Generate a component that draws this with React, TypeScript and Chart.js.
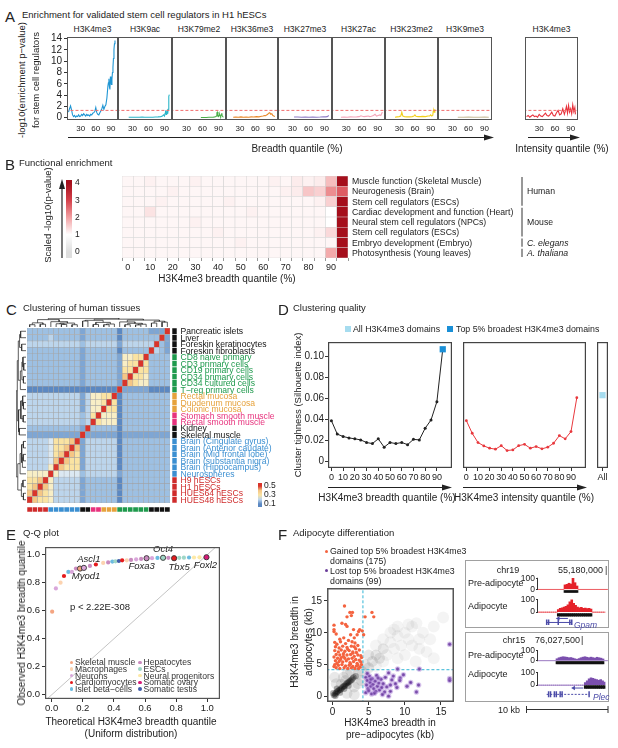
import React, { useEffect, useRef } from 'react';
import { Chart, registerables } from 'chart.js';

Chart.register(...registerables);

const FONT = '"Liberation Sans", Arial, Helvetica, sans-serif';
Chart.defaults.font.family = FONT;
Chart.defaults.color = '#222';
Chart.defaults.plugins.legend.display = false;
Chart.defaults.plugins.tooltip.enabled = false;

// ---------------- Panel A data ----------------
const A_MARKS = ['H3K4me3', 'H3K9ac', 'H3K79me2', 'H3K36me3', 'H3K27me3', 'H3K27ac', 'H3K23me2', 'H3K9me3'];
const A_COLORS = ['#1f96d4', '#2bb6c9', '#4daf4a', '#e8892a', '#8e7cc3', '#f4a6b9', '#f2cf1c', '#c9bd9b'];
const A_X = [
  [6, 8, 10, 12, 14, 16, 18, 20, 22, 24, 26, 28, 30, 32, 34, 36, 38, 40, 42, 44, 46, 48, 50, 52, 54, 56, 58, 60, 62, 64, 66, 68, 70, 72, 74, 76, 78, 80, 82, 84, 85, 86, 87, 88, 89, 90, 91, 92, 93, 94, 95, 96, 97, 98],
  [23, 28, 33, 38, 43, 48, 53, 58, 63, 68, 73, 78, 83, 86, 88, 90, 91, 92, 93, 94, 95, 96, 97, 98, 99],
  [57, 62, 67, 72, 77, 80, 83, 85, 86, 87, 88, 89, 90, 91, 92, 93, 94, 95, 96, 97, 98],
  [17, 22, 27, 32, 37, 42, 47, 52, 57, 62, 67, 72, 75, 78, 80, 82, 84, 86, 88, 90, 92, 94, 96, 98],
  [33, 40, 47, 54, 61, 68, 75, 82, 88, 92, 95, 98],
  [20, 26, 32, 38, 44, 50, 55, 58, 61, 64, 68, 72, 75, 78, 82, 85, 88, 91, 94, 96, 98, 99],
  [22, 26, 30, 33, 35, 37, 40, 45, 50, 55, 58, 60, 62, 66, 70, 75, 80, 85, 88, 90, 92, 94, 95, 96, 97, 98],
  [40, 50, 60, 70, 80, 90, 98],
];
const A_Y = [
  [1.0, 1.6, 2.1, 1.4, 0.5, 0.2, 0.4, 0.1, 0.3, 0.2, 0.5, 0.2, 0.3, 0.6, 0.4, 0.7, 0.5, 0.3, 0.6, 0.4, 0.5, 0.3, 0.6, 0.5, 0.8, 0.9, 1.1, 1.8, 0.9, 0.6, 0.5, 0.9, 1.2, 1.6, 2.2, 1.5, 2.0, 2.3, 3.5, 5.6, 6.2, 6.9, 5.5, 5.0, 7.3, 6.4, 5.9, 6.8, 8.0, 8.9, 10.5, 12.1, 13.1, 13.7],
  [0.1, 0.1, 0.1, 0.1, 0.1, 0.12, 0.1, 0.1, 0.1, 0.1, 0.12, 0.15, 0.2, 0.3, 0.5, 0.3, 0.8, 1.3, 0.6, 0.9, 1.2, 0.7, 1.5, 3.8, 4.1],
  [0.05, 0.05, 0.05, 0.1, 0.08, 0.1, 0.15, 0.2, 0.3, 0.9, 1.0, 0.3, 0.2, 0.4, 0.6, 0.3, 0.2, 0.5, 0.8, 0.3, 0.2],
  [0.1, 0.12, 0.1, 0.15, 0.1, 0.12, 0.1, 0.15, 0.12, 0.2, 0.15, 0.25, 0.3, 0.4, 0.35, 0.5, 0.6, 0.8, 0.9, 0.6, 0.7, 0.4, 0.3, 0.2],
  [0.12, 0.12, 0.1, 0.12, 0.1, 0.12, 0.1, 0.12, 0.15, 0.15, 0.2, 0.4],
  [0.1, 0.12, 0.1, 0.15, 0.12, 0.15, 0.2, 0.35, 0.25, 0.2, 0.25, 0.3, 0.2, 0.25, 0.4, 0.6, 0.3, 0.4, 0.5, 0.4, 0.8, 1.0],
  [0.1, 0.15, 0.2, 0.3, 1.0, 0.3, 0.2, 0.15, 0.15, 0.2, 0.3, 0.5, 0.25, 0.2, 0.2, 0.25, 0.2, 0.3, 0.3, 0.5, 0.3, 0.4, 1.2, 1.3, 1.0, 1.5],
  [0.1, 0.1, 0.12, 0.1, 0.1, 0.12, 0.1],
];
const A_INT_X = [6, 9, 12, 15, 18, 21, 24, 27, 30, 33, 36, 39, 42, 45, 48, 51, 54, 57, 60, 63, 66, 69, 72, 75, 78, 80, 82, 84, 86, 88, 90, 92, 94, 96, 98, 99];
const A_INT_Y = [0.2, 0.4, 0.1, 0.3, 0.5, 0.2, 0.3, 0.1, 0.6, 0.3, 0.2, 0.5, 0.8, 0.4, 0.3, 0.6, 1.0, 0.4, 0.3, 0.9, 1.3, 0.5, 0.7, 1.6, 0.6, 1.2, 2.0, 0.8, 2.2, 1.0, 1.6, 0.7, 2.3, 1.1, 1.8, 0.6];
const A_INT_COLOR = '#e8323c';
const A_Y_TICKS = [0, 2, 4, 6, 8, 10, 12, 14];
const A_X_TICKS = [30, 60, 90];
const A_PCUT = 1.3;

// ---------------- Panel B data ----------------
const B_TERMS = ['Muscle function (Skeletal Muscle)', 'Neurogenesis (Brain)', 'Stem cell regulators (ESCs)', 'Cardiac development and function (Heart)', 'Neural stem cell regulators (NPCs)', 'Stem cell regulators (ESCs)', 'Embryo development (Embryo)', 'Photosynthesis (Young leaves)'];
const B_QUANT = [0, 5, 10, 15, 20, 25, 30, 35, 40, 45, 50, 55, 60, 65, 70, 75, 80, 85, 90, 95];
const B_VALUES = [
  [1.1, 1.1, 1.15, 1.1, 1.1, 1.1, 1.15, 1.1, 1.1, 1.1, 1.1, 1.1, 1.1, 1.15, 1.1, 1.2, 1.15, 1.2, 1.7, 4.0],
  [1.1, 1.1, 1.1, 1.1, 1.15, 1.1, 1.1, 1.1, 1.1, 1.1, 1.1, 1.1, 1.1, 1.1, 1.15, 1.2, 1.6, 1.5, 2.2, 2.7],
  [1.1, 1.1, 1.1, 1.15, 1.1, 1.1, 1.1, 1.1, 1.1, 1.15, 1.1, 1.1, 1.1, 1.1, 1.1, 1.1, 1.1, 1.15, 1.5, 4.0],
  [1.1, 1.1, 1.3, 1.1, 1.1, 1.1, 1.1, 1.1, 1.1, 1.1, 1.1, 1.15, 1.1, 1.1, 1.1, 1.1, 1.1, 1.1, 1.0, 4.0],
  [1.1, 1.1, 1.1, 1.1, 1.1, 1.1, 1.15, 1.1, 1.1, 1.1, 1.1, 1.1, 1.1, 1.1, 1.1, 1.1, 1.1, 1.1, 1.0, 4.0],
  [1.1, 1.1, 1.1, 1.1, 1.1, 1.1, 1.1, 1.1, 1.15, 1.1, 1.1, 1.1, 1.1, 1.1, 1.1, 1.1, 1.1, 1.15, 1.4, 4.0],
  [1.1, 1.1, 1.1, 1.1, 1.1, 1.1, 1.1, 1.1, 1.1, 1.1, 1.15, 1.1, 1.1, 1.1, 1.1, 1.1, 1.1, 1.1, 1.1, 4.0],
  [1.1, 1.1, 1.1, 1.1, 1.1, 1.1, 1.1, 1.1, 1.1, 1.1, 1.1, 1.1, 1.1, 1.1, 1.1, 1.1, 1.1, 1.1, 1.9, 4.0],
];
const B_GROUPS = [
  { name: 'Human', from: 0, to: 2, it: false },
  { name: 'Mouse', from: 3, to: 5, it: false },
  { name: 'C. elegans', from: 6, to: 6, it: true },
  { name: 'A. thaliana', from: 7, to: 7, it: true },
];
const B_STOPS: [number, string][] = [[0, '#dedede'], [1, '#ffffff'], [2, '#f2a0a2'], [3, '#d5404a'], [4, '#a50f1c']];
const B_SCALE_TICKS = [0, 1, 2, 3, 4];

// ---------------- Panel C data ----------------
const C_SAMPLES = ['Pancreatic islets', 'Liver', 'Foreskin keratinocytes', 'Foreskin fibroblasts', 'CD8 naive primary', 'CD3 primary cells', 'CD19 primary cells', 'CD34 primary cells', 'CD34 cultured cells', 'T\u2212reg primary cells', 'Rectal mucosa', 'Duodenum mucosa', 'Colonic mucosa', 'Stomach smooth muscle', 'Rectal smooth muscle', 'Kidney', 'Skeletal muscle', 'Brain (Cingulate gyrus)', 'Brain (Anterior caudate)', 'Brain (Mid frontal lobe)', 'Brain (substantia nigra)', 'Brain (Hippocampus)', 'Neurospheres', 'H9 hESCs', 'H1 hESCs', 'HUES64 hESCs', 'HUES48 hESCs'];
const C_GROUP = [0, 0, 0, 0, 1, 1, 1, 1, 1, 1, 2, 2, 2, 3, 3, 0, 0, 4, 4, 4, 4, 4, 4, 5, 5, 5, 5];
const C_GROUP_COLORS = ['#111111', '#1f9a4d', '#e6a23c', '#e7327d', '#3b8fd1', '#cf2b2b'];
// rows = samples (top to bottom); columns = samples in reverse order (left to right); level codes
const C_ROWS = [
  '2222' + '222222' + '12' + '22' + '222' + '022222' + '1119',
  '2222' + '322222' + '12' + '22' + '222' + '022222' + '2291',
  '3333' + '333333' + '23' + '33' + '333' + '133333' + '3921',
  '2222' + '222222' + '12' + '22' + '222' + '022222' + '9321',
  '2222' + '222222' + '12' + '22' + '222' + '155669' + '2222',
  '2222' + '222222' + '12' + '22' + '222' + '156696' + '2222',
  '2222' + '222222' + '12' + '22' + '222' + '166966' + '2222',
  '2222' + '222222' + '12' + '22' + '222' + '179665' + '2222',
  '2222' + '222222' + '12' + '22' + '222' + '197655' + '2222',
  '0000' + '000000' + '00' + '00' + '000' + '911111' + '0000',
  '3333' + '333333' + '13' + '55' + '669' + '022222' + '2222',
  '3333' + '333333' + '13' + '55' + '696' + '022222' + '2222',
  '3333' + '333333' + '13' + '55' + '966' + '022222' + '2222',
  '3333' + '333333' + '23' + '69' + '555' + '022222' + '2222',
  '3333' + '333333' + '23' + '96' + '555' + '022222' + '2222',
  '2222' + '222222' + '19' + '22' + '222' + '022222' + '2222',
  '1111' + '111111' + '91' + '11' + '111' + '011111' + '1111',
  '3333' + '466679' + '13' + '33' + '333' + '022222' + '2222',
  '3333' + '466797' + '13' + '33' + '333' + '022222' + '2222',
  '3333' + '467976' + '13' + '33' + '333' + '022222' + '2222',
  '3333' + '479766' + '13' + '33' + '333' + '022222' + '2222',
  '3333' + '597666' + '13' + '33' + '333' + '022222' + '2222',
  '5555' + '954444' + '23' + '33' + '333' + '122222' + '2222',
  '6679' + '533333' + '12' + '22' + '222' + '022222' + '2222',
  '6797' + '533333' + '12' + '22' + '222' + '022222' + '2222',
  '7976' + '533333' + '12' + '22' + '222' + '022222' + '2222',
  '9766' + '533333' + '12' + '22' + '222' + '022222' + '2222',
];
const C_PAL: Record<string, string> = { '0': '#5b88c2', '1': '#7ea6d4', '2': '#9dc0e3', '3': '#bcd5ec', '4': '#dbe8f2', '5': '#f8eec6', '6': '#fae3a2', '7': '#f5c685', '9': '#d9342b' };
// hierarchical merges: [nodeA, nodeB, height]; leaves 0..26, internal nodes 27+
const C_MERGES = [
  [25, 26, 1.0], [23, 24, 1.2], [27, 28, 1.8],
  [17, 18, 1.0], [19, 20, 1.1], [21, 31, 1.4], [30, 32, 1.7], [22, 33, 2.3], [29, 34, 3.2],
  [11, 12, 1.0], [10, 36, 1.3], [13, 14, 1.1], [37, 38, 2.0], [15, 16, 2.6], [39, 40, 2.9],
  [7, 8, 1.0], [5, 6, 0.9], [4, 43, 1.2], [42, 44, 1.6], [9, 45, 2.2],
  [2, 3, 1.7], [0, 1, 2.1], [47, 48, 2.5], [46, 49, 3.0], [41, 50, 3.4], [35, 51, 3.8],
];
const C_SCALE_TICKS = [0.1, 0.3, 0.5];
const C_STOPS: [number, string][] = [[0.1, '#5b88c2'], [0.2, '#bcd5ec'], [0.3, '#fae3a2'], [0.4, '#f5c685'], [0.5, '#d9342b']];

// ---------------- Panel D data ----------------
const D_QUANT = [0, 5, 10, 15, 20, 25, 30, 35, 40, 45, 50, 55, 60, 65, 70, 75, 80, 85, 90, 95];
const D_BREADTH = [0.0388, 0.026, 0.0237, 0.0224, 0.0215, 0.0205, 0.018, 0.017, 0.0215, 0.0136, 0.018, 0.017, 0.018, 0.016, 0.021, 0.0205, 0.0316, 0.0394, 0.0568, 0.1066];
const D_INTENSITY = [0.0388, 0.0268, 0.018, 0.0148, 0.0126, 0.0117, 0.015, 0.0104, 0.011, 0.015, 0.0163, 0.0126, 0.0142, 0.012, 0.0136, 0.0173, 0.0246, 0.0215, 0.0284, 0.0606];
const D_ALL = 0.063;
const D_Y_TICKS = [0, 0.02, 0.04, 0.06, 0.08, 0.1];
const D_X_TICKS = [0, 10, 20, 30, 40, 50, 60, 70, 80, 90];

// ---------------- Panel E data ----------------
const E_TYPES = ['Skeletal muscle', 'Macrophages', 'Neurons', 'Cardiomyocytes', 'Islet beta\u2212cells', 'Hepatocytes', 'ESCs', 'Neural progenitors', 'Somatic ovary', 'Somatic testis'];
const E_TYPE_COLORS = ['#f4a582', '#fcd3b0', '#d9a6da', '#e41a1c', '#6bbbe0', '#c98bbf', '#9fd6c6', '#fde9a6', '#d81b78', '#3f5ba9'];
const E_X = [0.003, 0.027, 0.057, 0.079, 0.107, 0.13, 0.156, 0.182, 0.207, 0.246, 0.284, 0.331, 0.363, 0.39, 0.41, 0.432, 0.453, 0.483, 0.51, 0.543, 0.575, 0.61, 0.645, 0.68, 0.716, 0.75, 0.787, 0.82, 0.85, 0.883, 0.915, 0.95, 0.995];
const E_Y = [0.593, 0.759, 0.8, 0.848, 0.877, 0.877, 0.901, 0.901, 0.906, 0.92, 0.93, 0.941, 0.945, 0.951, 0.953, 0.955, 0.96, 0.96, 0.963, 0.967, 0.97, 0.975, 0.975, 0.977, 0.978, 0.978, 0.975, 0.978, 0.979, 0.98, 0.98, 0.981, 0.982];
const E_CAT = [0, 2, 1, 3, 4, 2, 5, 0, 2, 5, 3, 1, 5, 4, 6, 9, 3, 1, 5, 2, 5, 5, 2, 4, 6, 5, 3, 6, 6, 4, 7, 7, 8];
const E_GENES = [
  { i: 7, name: 'Myod1', dx: 6, dy: 8 },
  { i: 8, name: 'Ascl1', dx: 5, dy: -9 },
  { i: 21, name: 'Foxa3', dx: -5, dy: 8 },
  { i: 24, name: 'Oct4', dx: 0, dy: -8 },
  { i: 26, name: 'Tbx5', dx: 5, dy: 9 },
  { i: 32, name: 'Foxl2', dx: -1, dy: 8 },
];
const E_TICKS = [0, 0.2, 0.4, 0.6, 0.8, 1.0];

// ---------------- Panel F data ----------------
const F_GAINED = [
  [1.65, 14.2], [2.4, 13.2], [2.75, 13.2], [2.6, 12.7], [2.0, 12.5], [4.5, 12.5], [5.45, 13.2], [5.7, 12.5], [0.2, 11.2], [0.2, 10.5], [0.2, 10.2], [1.3, 11.5], [2.0, 11.0], [1.8, 11.3], [2.9, 10.5], [3.75, 10.5], [4.1, 10.3], [3.4, 9.7], [2.5, 9.7], [4.3, 9.7], [1.55, 9.2], [2.7, 8.6], [0.5, 9.8], [1.0, 9.0], [3.6, 10.2], [3.0, 9.2],
  [0.3, 8.5], [0.6, 8.2], [1.1, 8.6], [1.8, 8.3], [2.2, 8.8], [3.1, 8.4], [3.5, 8.0], [0.4, 7.8], [0.9, 7.6], [1.4, 7.9], [2.0, 7.7], [2.6, 7.9], [3.2, 7.5], [3.7, 7.3], [0.3, 7.2], [0.8, 7.0], [1.2, 7.3], [1.7, 7.1], [2.3, 7.2], [2.8, 7.0], [3.3, 6.9], [0.5, 6.6], [1.0, 6.5], [1.5, 6.7], [2.0, 6.5], [2.5, 6.6], [3.0, 6.3], [3.5, 6.5], [3.9, 6.4], [0.2, 6.2], [0.7, 6.0], [1.2, 6.1], [1.7, 6.0], [2.2, 5.9], [2.7, 6.0], [3.2, 5.8], [3.7, 5.7], [0.4, 5.6], [0.9, 5.5], [1.4, 5.4], [1.9, 5.6], [2.4, 5.3], [2.9, 5.5], [3.4, 5.2], [3.9, 5.4], [0.3, 5.0], [0.8, 4.9], [1.3, 5.0], [1.8, 4.8], [2.3, 4.9], [2.8, 4.7], [3.3, 4.8], [3.8, 4.6], [0.5, 4.5], [1.0, 4.4], [1.6, 4.5], [2.1, 4.4], [2.6, 4.5], [3.1, 4.4], [3.6, 4.4], [0.2, 4.7], [1.1, 5.8], [2.5, 5.1], [3.0, 7.8], [1.5, 6.3], [2.1, 7.4], [0.6, 5.2], [3.5, 4.9], [2.8, 6.8], [4.0, 5.0], [4.0, 6.1],
];
const F_LOST = [
  [4.6, 3.0], [4.8, 2.5], [4.7, 1.8], [4.9, 1.2], [4.6, 0.6], [5.1, 3.2], [5.2, 2.2], [5.3, 1.6], [5.0, 0.9], [5.4, 0.4], [5.5, 2.8], [5.6, 1.9], [5.7, 1.2], [5.9, 2.4], [6.0, 0.8], [6.1, 3.3], [6.2, 1.6], [6.4, 2.1], [6.5, 1.0], [6.7, 2.7], [6.8, 1.4], [7.0, 2.0], [7.2, 0.7], [7.3, 3.0], [7.5, 1.5], [5.8, 0.5], [6.3, 2.9], [4.8, 3.6], [5.3, 2.7], [6.9, 0.3],
  [9.0, 4.3], [12.0, 4.3], [16.2, 8.2], [16.2, 2.8], [16.2, 2.5], [11.9, 1.8], [11.6, 0.7], [9.35, 2.9], [9.3, 2.5], [8.7, 2.0], [8.9, 1.4], [8.0, 0.8], [7.75, 0.05], [8.0, 1.8], [7.75, 3.7], [8.4, 3.2], [10.3, 1.6], [9.8, 3.4], [8.2, 2.6], [10.8, 2.2],
];
const F_DENSE = [[0.2, 0.2], [0.35, 0.4], [0.5, 0.6], [0.65, 0.75], [0.8, 0.9], [0.95, 1.0], [1.1, 1.1], [1.25, 1.3], [1.4, 1.5], [1.55, 1.6], [1.7, 1.7], [1.85, 1.9], [2.0, 2.1], [2.15, 2.2], [2.3, 2.3], [2.45, 2.45], [2.6, 2.6], [2.75, 2.8], [2.9, 3.0], [3.2, 3.2], [0.4, 0.1], [0.1, 0.5], [1.0, 0.6], [0.6, 1.2], [1.6, 1.2], [2.2, 1.7]];
const F_MID = [[0.5, 2.0], [2.0, 0.5], [3.0, 1.5], [1.5, 3.0], [4.0, 4.0], [4.5, 5.0], [5.0, 4.5], [3.5, 2.0], [2.0, 3.5], [0.3, 3.0], [3.0, 0.3], [4.0, 2.5], [2.5, 4.0], [5.5, 5.5], [6.0, 6.5], [6.5, 6.0], [7.0, 7.5], [5.0, 6.5], [3.5, 3.5], [1.2, 1.9], [1.8, 2.5]];
const F_SPARSE = [[7.5, 6.5], [8, 8.5], [8.5, 7.5], [9, 9.5], [9.5, 8], [10, 10], [10.5, 9], [11, 11], [11.6, 11.5], [12, 9], [12.5, 10], [13, 7], [13.5, 9], [15.3, 12.4], [14, 11], [9, 6], [10, 6.5], [11, 8], [7, 9], [8, 10], [6, 8], [12, 7.5], [10.5, 11.3], [9, 11], [8.5, 10.5], [7, 5.5], [6, 4.8], [11.5, 5.5], [14, 6]];
const F_CUT = 4.2;
const F_TICKS = [0, 5, 10, 15];

// genome tracks (signal per 2-px bin)
const TRACK_BINS = Array.from({ length: 35 }, (_, i) => String(i));
const TRACKS = [
  { signal: [0, 0, 0, 0, 0, 0, 0, 0, 0, 0, 0, 0, 0, 40, 45, 55, 48, 100, 60, 30, 0, 0, 0, 0, 0, 0, 0, 0, 0, 0, 0, 0, 0, 0, 0], peak: [13, 19], peakY: [-11, -29], color: '#e5222a', yMin: -42, yMax: 111 },
  { signal: [0, 0, 0, 0, 0, 0, 0, 0, 0, 0, 20, 30, 35, 42, 48, 60, 85, 100, 72, 55, 42, 36, 40, 30, 33, 28, 30, 25, 0, 0, 0, 0, 0, 0, 0], peak: [10, 27], peakY: [-13, -33], color: '#e5222a', yMin: -105, yMax: 115 },
  { signal: [0, 0, 0, 0, 0, 0, 0, 0, 0, 20, 30, 36, 40, 38, 35, 30, 32, 26, 20, 14, 22, 30, 36, 40, 35, 30, 36, 31, 26, 35, 30, 26, 18, 0, 0], peak: [9, 32], peakY: [-7, -31], color: '#7b4fae', yMin: -41, yMax: 116 },
  { signal: [0, 0, 0, 0, 0, 0, 0, 0, 0, 0, 0, 0, 0, 0, 0, 0, 0, 0, 0, 0, 0, 0, 0, 0, 20, 35, 52, 60, 55, 50, 46, 40, 45, 35, 25], peak: [24, 34], peakY: [-4, -27], color: '#7b4fae', yMin: -105, yMax: 115 },
];
const GENES = [
  { track: 1, name: 'Gpam', from: 4, to: 17, exons: [4, 5, 10, 16, 17], arrow: [15, 10], y: -85, ya: -52, dash: false },
  { track: 3, name: 'Plec', from: 4, to: 26, exons: [5, 6, 8, 9, 11, 12, 26], arrow: [23, 18], y: -76, ya: -24, dash: true },
];
const TRACK_TICKS = [0, 100];

// ---------------- helpers ----------------
function hexToRgb(h: string) {
  const n = parseInt(h.slice(1), 16);
  return [(n >> 16) & 255, (n >> 8) & 255, n & 255];
}
function rampColor(stops: [number, string][], v: number) {
  if (v <= stops[0][0]) return stops[0][1];
  for (let i = 1; i < stops.length; i++) {
    if (v <= stops[i][0]) {
      const t = (v - stops[i - 1][0]) / (stops[i][0] - stops[i - 1][0]);
      const a = hexToRgb(stops[i - 1][1]), b = hexToRgb(stops[i][1]);
      return `rgb(${Math.round(a[0] + (b[0] - a[0]) * t)},${Math.round(a[1] + (b[1] - a[1]) * t)},${Math.round(a[2] + (b[2] - a[2]) * t)})`;
    }
  }
  return stops[stops.length - 1][1];
}
function gradFill(stops: [number, string][]) {
  return (c: any) => {
    const ch = c.chart;
    const ys = ch.scales && ch.scales.y;
    if (!ch.chartArea || !ys) return stops[0][1];
    const v0 = stops[0][0], v1 = stops[stops.length - 1][0];
    const g = ch.ctx.createLinearGradient(0, ys.getPixelForValue(v0), 0, ys.getPixelForValue(v1));
    stops.forEach(([v, col]) => g.addColorStop((v - v0) / (v1 - v0), col));
    return g;
  };
}

const helperPlugin = {
  id: 'helpers',
  afterDatasetsDraw(chart: any, _a: any, o: any) {
    const ctx = chart.ctx, ar = chart.chartArea;
    if (o && o.bracket) {
      const ys = chart.scales.y;
      ctx.save();
      ctx.strokeStyle = '#333';
      ctx.lineWidth = 1;
      ctx.beginPath();
      ctx.moveTo(ar.left - 0.5, ys.getPixelForValue(o.bracket[0]) + 0.5);
      ctx.lineTo(ar.left - 0.5, ys.getPixelForValue(o.bracket[1]) - 0.5);
      ctx.stroke();
      ctx.restore();
    }
    if (o && o.labels) {
      const meta = chart.getDatasetMeta(o.labels.dataset);
      ctx.save();
      ctx.font = o.labels.font;
      ctx.fillStyle = o.labels.color;
      ctx.textAlign = 'center';
      ctx.textBaseline = 'middle';
      o.labels.items.forEach((it: any) => {
        const p = meta.data[it.i];
        if (p) ctx.fillText(it.name, p.x + it.dx, p.y + it.dy);
      });
      ctx.restore();
    }
  },
  afterDraw(chart: any, _a: any, o: any) {
    if (o && o.frame) {
      const ctx = chart.ctx, ar = chart.chartArea;
      const w = o.frame.width;
      ctx.save();
      ctx.strokeStyle = o.frame.color;
      ctx.lineWidth = w;
      ctx.strokeRect(ar.left + w / 2, ar.top + w / 2, ar.right - ar.left - w, ar.bottom - ar.top - w);
      ctx.restore();
    }
  },
};
Chart.register(helperPlugin);

function axis(o: any) {
  const tickLen = o.tickLen === undefined ? 3 : o.tickLen;
  const ax: any = {
    type: o.type || 'linear',
    position: o.position,
    grid: { display: tickLen > 0, drawOnChartArea: false, drawTicks: tickLen > 0, tickLength: tickLen, color: o.tickColor || '#333' },
    border: { display: false },
    ticks: { font: { size: o.size || 9 }, padding: o.pad === undefined ? 2 : o.pad, maxRotation: 0, minRotation: 0, autoSkip: false, color: '#222' },
  };
  if (o.min !== undefined) ax.min = o.min;
  if (o.max !== undefined) ax.max = o.max;
  if (o.ticks) ax.afterBuildTicks = (s: any) => { s.ticks = o.ticks.map((v: number) => ({ value: v })); };
  if (o.fmt) ax.ticks.callback = o.fmt;
  if (o.horizontal) ax.afterFit = (s: any) => { s.height = o.fit; };
  else ax.afterFit = (s: any) => { s.width = o.fit; };
  if (o.stacked) ax.stacked = true;
  return ax;
}

function ChartBox({ area, yW = 0, xH = 0, yRW = 0, pad = 8, config }: any) {
  const ref = useRef<HTMLCanvasElement>(null);
  const L = area.l - pad - yW, T = area.t - pad;
  const W = area.w + 2 * pad + yW + yRW, H = area.h + 2 * pad + xH;
  useEffect(() => {
    const cfg = config();
    cfg.options = Object.assign({ responsive: false, maintainAspectRatio: false, animation: false, events: [], layout: { padding: pad } }, cfg.options || {});
    const ch = new Chart(ref.current as HTMLCanvasElement, cfg);
    return () => ch.destroy();
  }, []);
  return <canvas ref={ref} width={W} height={H} style={{ position: 'absolute', left: L, top: T, width: W, height: H }} />;
}

function Txt({ x, y, s = 9, a = 'l', c = '#222', it = false, rot = false, children }: any) {
  const tx = a === 'l' ? '0%' : a === 'm' ? '-50%' : '-100%';
  const style: any = {
    position: 'absolute', left: x, top: y, fontSize: s, color: c, fontStyle: it ? 'italic' : 'normal',
    whiteSpace: 'nowrap', lineHeight: 1, transform: rot ? 'translate(-50%,-50%) rotate(-90deg)' : `translate(${tx},-50%)`,
  };
  return <div style={style}>{children}</div>;
}

// ---------------- chart configs ----------------
const A_EDGES = [67, 118, 172, 226, 278, 332, 385, 438, 492];

function aConfig(xs: number[], ys: number[], color: string, showY: boolean) {
  return () => ({
    type: 'scatter',
    data: {
      datasets: [
        { data: [{ x: 0, y: A_PCUT }, { x: 110, y: A_PCUT }], showLine: true, borderColor: '#f26d6d', borderWidth: 1, borderDash: [3, 2], pointRadius: 0 },
        { data: xs.map((x, j) => ({ x, y: ys[j] })), showLine: true, borderColor: color, borderWidth: 1.1, pointRadius: 0 },
      ],
    },
    options: {
      scales: {
        x: axis({ min: 3, max: 104, ticks: A_X_TICKS, size: 8, fit: 14, horizontal: true, tickLen: 0, pad: 4 }),
        y: showY ? axis({ min: -0.4, max: 14.3, ticks: A_Y_TICKS, size: 10, fit: 22, tickLen: 3, pad: 2 }) : { display: false, min: -0.4, max: 14.3 },
      },
      plugins: { helpers: { frame: { color: '#555', width: 1 } } },
    },
  });
}

const bHeatConfig = () => ({
  type: 'bar',
  data: {
    labels: B_QUANT.map(String),
    datasets: B_VALUES.map((row) => ({
      data: row.map(() => 1),
      backgroundColor: row.map((v) => rampColor(B_STOPS, v)),
      borderColor: '#d4d4d4', borderWidth: 0.6, borderSkipped: false, barPercentage: 1, categoryPercentage: 1,
    })).reverse(),
  },
  options: {
    scales: {
      x: axis({ type: 'category', stacked: true, size: 9, fit: 12, horizontal: true, tickLen: 3, pad: 1, tickColor: '#999', fmt: (_v: any, i: number) => (i % 2 === 0 ? String(B_QUANT[i]) : '') }),
      y: { stacked: true, display: false, min: 0, max: B_VALUES.length },
    },
  },
});

const bScaleConfig = () => ({
  type: 'bar',
  data: { labels: [''], datasets: [{ data: [[-0.35, 4.17]], backgroundColor: gradFill(B_STOPS), borderWidth: 0, barPercentage: 1, categoryPercentage: 1 }] },
  options: {
    scales: {
      x: { display: false },
      y: axis({ min: -0.35, max: 4.17, ticks: B_SCALE_TICKS, size: 8.5, fit: 14, tickLen: 0, pad: 3, position: 'right' }),
    },
  },
});

const cHeatConfig = () => ({
  type: 'bar',
  data: {
    labels: C_SAMPLES.slice().reverse(),
    datasets: C_ROWS.map((row) => ({
      data: row.split('').map(() => 1),
      backgroundColor: row.split('').map((ch) => C_PAL[ch]),
      borderColor: '#a2a2a2', borderWidth: 0.5, borderSkipped: false, barPercentage: 1, categoryPercentage: 1,
    })).reverse(),
  },
  options: { scales: { x: { stacked: true, display: false }, y: { stacked: true, display: false, min: 0, max: C_ROWS.length } } },
});

const cSideConfig = () => ({
  type: 'bar',
  data: {
    labels: [''],
    datasets: C_SAMPLES.map((_, s) => ({ data: [1], backgroundColor: C_GROUP_COLORS[C_GROUP[s]], borderColor: '#ffffff', borderWidth: 0.6, borderSkipped: false, barPercentage: 1, categoryPercentage: 1 })).reverse(),
  },
  options: { scales: { x: { stacked: true, display: false }, y: { stacked: true, display: false, min: 0, max: C_SAMPLES.length } } },
});

const cBottomConfig = () => ({
  type: 'bar',
  data: {
    labels: C_SAMPLES.slice().reverse(),
    datasets: [{ data: C_SAMPLES.map(() => 1), backgroundColor: C_SAMPLES.map((_, c) => C_GROUP_COLORS[C_GROUP[C_SAMPLES.length - 1 - c]]), borderColor: '#ffffff', borderWidth: 0.6, borderSkipped: false, barPercentage: 1, categoryPercentage: 1 }],
  },
  options: { scales: { x: { display: false }, y: { display: false, min: 0, max: 1 } } },
});

function dendroSegments(posOf: (leaf: number) => number) {
  const n = C_SAMPLES.length;
  const pos: number[] = [], ht: number[] = [];
  for (let i = 0; i < n; i++) { pos[i] = posOf(i); ht[i] = 0; }
  const segs: number[][][] = [];
  C_MERGES.forEach(([a, b, h], k) => {
    const id = n + k;
    pos[id] = (pos[a] + pos[b]) / 2;
    ht[id] = h;
    segs.push([[pos[a], ht[a]], [pos[a], h], [pos[b], h], [pos[b], ht[b]]]);
  });
  return segs;
}

const cLeftDendroConfig = () => ({
  type: 'scatter',
  data: {
    datasets: dendroSegments((s) => s).map((seg) => ({
      data: seg.map(([p, h]) => ({ x: h, y: p })), showLine: true, borderColor: '#333', borderWidth: 0.8, pointRadius: 0,
    })),
  },
  options: { scales: { x: { display: false, min: 0, max: 3.9, reverse: true }, y: { display: false, min: -0.5, max: 26.5, reverse: true } } },
});

const cTopDendroConfig = () => ({
  type: 'scatter',
  data: {
    datasets: dendroSegments((s) => C_SAMPLES.length - 1 - s).map((seg) => ({
      data: seg.map(([p, h]) => ({ x: p, y: h })), showLine: true, borderColor: '#333', borderWidth: 0.8, pointRadius: 0,
    })),
  },
  options: { scales: { x: { display: false, min: -0.5, max: 26.5 }, y: { display: false, min: 0, max: 3.9 } } },
});

const cScaleConfig = () => ({
  type: 'bar',
  data: { labels: [''], datasets: [{ data: [[0.033, 0.567]], backgroundColor: gradFill(C_STOPS), borderWidth: 0, barPercentage: 1, categoryPercentage: 1 }] },
  options: {
    scales: {
      x: { display: false },
      y: axis({ min: 0.033, max: 0.567, ticks: C_SCALE_TICKS, size: 8.5, fit: 16, tickLen: 0, pad: 2, position: 'right', fmt: (v: number) => v.toFixed(1) }),
    },
  },
});

const dXAxis = () => axis({ min: -2.9, max: 102.9, ticks: D_X_TICKS, size: 9, fit: 14, horizontal: true, tickLen: 3, pad: 1 });
const dYRange = { min: -0.0062, max: 0.1135 };

const d1Config = () => ({
  type: 'scatter',
  data: {
    datasets: [
      { data: [{ x: D_QUANT[D_QUANT.length - 1], y: D_BREADTH[D_BREADTH.length - 1] }], pointStyle: 'rect', pointRadius: 4.4, pointBackgroundColor: '#1a8fd6', pointBorderWidth: 0 },
      { data: D_QUANT.map((q, i) => ({ x: q, y: D_BREADTH[i] })), showLine: true, borderColor: '#222', borderWidth: 1, pointRadius: D_QUANT.map((_, i) => (i === D_QUANT.length - 1 ? 0 : 1.5)), pointBackgroundColor: '#222', pointBorderWidth: 0 },
    ],
  },
  options: {
    scales: {
      x: dXAxis(),
      y: axis({ ...dYRange, ticks: D_Y_TICKS, size: 10, fit: 28, tickLen: 3, pad: 1, fmt: (v: number) => (v === 0 ? '0' : v.toFixed(2)) }),
    },
    plugins: { helpers: { frame: { color: '#444', width: 1.2 } } },
  },
});

const d2Config = () => ({
  type: 'scatter',
  data: {
    datasets: [
      { data: D_QUANT.map((q, i) => ({ x: q, y: D_INTENSITY[i] })), showLine: true, borderColor: '#e8383d', borderWidth: 1, pointRadius: 1.4, pointBackgroundColor: '#e8383d', pointBorderWidth: 0 },
    ],
  },
  options: {
    scales: { x: dXAxis(), y: { display: false, ...dYRange } },
    plugins: { helpers: { frame: { color: '#444', width: 1.2 } } },
  },
});

const d3Config = () => ({
  type: 'scatter',
  data: { datasets: [{ data: [{ x: 0.5, y: D_ALL }], pointStyle: 'rect', pointRadius: 4.4, pointBackgroundColor: '#a6dcef', pointBorderWidth: 0 }] },
  options: {
    scales: {
      x: axis({ min: 0, max: 1, ticks: [0.5], size: 9, fit: 14, horizontal: true, tickLen: 3, pad: 1, fmt: () => 'All' }),
      y: { display: false, ...dYRange },
    },
    plugins: { helpers: { frame: { color: '#444', width: 1.2 } } },
  },
});

const eConfig = () => {
  const labeled = new Set(E_GENES.map((g) => g.i));
  return {
    type: 'scatter',
    data: {
      datasets: [
        {
          data: E_X.map((x, i) => ({ x, y: E_Y[i] })),
          pointRadius: E_X.map((_, i) => (labeled.has(i) ? 2.6 : 2.1)),
          pointBackgroundColor: E_CAT.map((c) => E_TYPE_COLORS[c]),
          pointBorderColor: E_X.map((_, i) => (labeled.has(i) ? '#333' : 'rgba(0,0,0,0)')),
          pointBorderWidth: E_X.map((_, i) => (labeled.has(i) ? 0.9 : 0)),
        },
        { data: [{ x: -0.2, y: -0.2 }, { x: 1.2, y: 1.2 }], showLine: true, borderColor: '#c4c4c4', borderWidth: 1, pointRadius: 0 },
      ],
    },
    options: {
      scales: {
        x: axis({ min: -0.043, max: 1.082, ticks: E_TICKS, size: 9.5, fit: 14, horizontal: true, tickLen: 3, pad: 1, fmt: (v: number) => v.toFixed(1) }),
        y: axis({ min: -0.03, max: 1.055, ticks: E_TICKS, size: 9.5, fit: 22, tickLen: 3, pad: 2, fmt: (v: number) => v.toFixed(1) }),
      },
      plugins: { helpers: { frame: { color: '#555', width: 1.2 }, labels: { dataset: 0, font: `italic 9.5px ${FONT}`, color: '#222', items: E_GENES } } },
    },
  };
};

const fConfig = () => {
  const pts = (arr: number[][]) => arr.map(([x, y]) => ({ x, y }));
  return {
    type: 'scatter',
    data: {
      datasets: [
        { data: pts(F_GAINED), pointRadius: 1.7, pointBackgroundColor: '#f4633f', pointBorderWidth: 0 },
        { data: pts(F_LOST), pointRadius: 1.7, pointBackgroundColor: '#6a3d9a', pointBorderColor: 'rgba(170,130,215,0.45)', pointBorderWidth: 2.2 },
        { data: [{ x: F_CUT, y: -5 }, { x: F_CUT, y: 25 }], showLine: true, borderColor: '#33b5d6', borderWidth: 1, borderDash: [3, 2], pointRadius: 0 },
        { data: [{ x: -5, y: F_CUT }, { x: 25, y: F_CUT }], showLine: true, borderColor: '#33b5d6', borderWidth: 1, borderDash: [3, 2], pointRadius: 0 },
        { data: pts(F_DENSE), pointRadius: 3.2, pointBackgroundColor: 'rgba(0,0,0,0.3)', pointBorderWidth: 0 },
        { data: pts(F_MID), pointRadius: 5.5, pointBackgroundColor: 'rgba(0,0,0,0.09)', pointBorderWidth: 0 },
        { data: pts(F_SPARSE), pointRadius: 6, pointBackgroundColor: 'rgba(0,0,0,0.045)', pointBorderWidth: 0 },
      ],
    },
    options: {
      scales: {
        x: axis({ min: -0.77, max: 16.8, ticks: F_TICKS, size: 10, fit: 14, horizontal: true, tickLen: 3, pad: 1 }),
        y: axis({ min: -0.87, max: 17.03, ticks: F_TICKS, size: 10, fit: 22, tickLen: 3, pad: 2 }),
      },
      plugins: { helpers: { frame: { color: '#555', width: 1.5 } } },
    },
  };
};

function trackConfig(ti: number) {
  return () => {
    const tr = TRACKS[ti];
    const datasets: any[] = [];
    const gene = GENES.find((g) => g.track === ti);
    if (gene) {
      datasets.push({
        type: 'line', data: TRACK_BINS.map((_, i) => (i === gene.arrow[0] || i === gene.arrow[1] ? gene.ya : null)), spanGaps: true,
        borderColor: '#4b4ba8', borderWidth: 1, pointStyle: 'triangle', rotation: 270,
        pointRadius: TRACK_BINS.map((_, i) => (i === gene.arrow[1] ? 2.5 : 0)), pointBackgroundColor: '#4b4ba8', pointBorderWidth: 0,
      });
      datasets.push({
        type: 'line', data: TRACK_BINS.map((_, i) => (gene.exons.includes(i) ? gene.y : null)), showLine: false,
        pointStyle: 'line', rotation: 90, pointRadius: 3, pointBorderColor: '#4b4ba8', pointBorderWidth: 1.5,
      });
      datasets.push({
        type: 'line', data: TRACK_BINS.map((_, i) => (i === gene.from || i === gene.to ? gene.y : null)), spanGaps: true,
        borderColor: '#4b4ba8', borderWidth: 1, borderDash: gene.dash ? [2, 1.5] : [], pointRadius: 0,
      });
    }
    datasets.push({
      data: TRACK_BINS.map((_, i) => (i >= tr.peak[0] && i <= tr.peak[1] ? tr.peakY : null)),
      backgroundColor: '#111', borderWidth: 0, barPercentage: 1, categoryPercentage: 1, grouped: false,
    });
    datasets.push({ data: tr.signal, backgroundColor: tr.color, borderWidth: 0, barPercentage: 1, categoryPercentage: 1, grouped: false });
    return {
      type: 'bar',
      data: { labels: TRACK_BINS, datasets },
      options: {
        scales: {
          x: { display: false },
          y: axis({ min: tr.yMin, max: tr.yMax, ticks: TRACK_TICKS, size: 8.5, fit: 20, tickLen: 2, pad: 1 }),
        },
        plugins: { helpers: { bracket: TRACK_TICKS } },
      },
    };
  };
}

// ---------------- layout ----------------
const B_TOP = 176, B_H = 82, B_LEFT = 122;
const B_ROW = B_H / 8;
const C_TOP = 328, C_H = 175, C_LEFT = 27, C_W = 143;
const TRACK_AREAS = [
  { l: 538, t: 574, w: 70, h: 23 },
  { l: 538, t: 595, w: 70, h: 33 },
  { l: 538, t: 646, w: 70, h: 22 },
  { l: 538, t: 668, w: 70, h: 33 },
];

function Arrow({ x1, x2, y }: any) {
  return (
    <g>
      <line x1={x1} y1={y} x2={x2 - 6} y2={y} stroke="#222" strokeWidth={1.2} />
      <polygon points={`${x2},${y} ${x2 - 10},${y - 3} ${x2 - 10},${y + 3}`} fill="#222" />
    </g>
  );
}

export default function App() {
  useEffect(() => {
    document.body.style.margin = '0';
  }, []);
  const cRow = C_H / C_SAMPLES.length;
  return (
    <div style={{ position: 'absolute', left: 0, top: 0, width: 618, height: 748, overflow: 'hidden', background: '#fff', fontFamily: FONT, color: '#222' }}>
      {/* ---------- A ---------- */}
      <Txt x={5} y={16} s={15}>A</Txt>
      <Txt x={22} y={15} s={9.5}>Enrichment for validated stem cell regulators in H1 hESCs</Txt>
      {A_MARKS.map((m, i) => (
        <Txt key={'at' + i} x={(A_EDGES[i] + A_EDGES[i + 1]) / 2} y={29} s={8.5} a="m">{m}</Txt>
      ))}
      <Txt x={551.5} y={29} s={8.5} a="m">H3K4me3</Txt>
      {A_MARKS.map((m, i) => (
        <ChartBox key={'ac' + i} area={{ l: A_EDGES[i], t: 37, w: A_EDGES[i + 1] - A_EDGES[i], h: 83 }} yW={i === 0 ? 22 : 0} xH={14} config={aConfig(A_X[i], A_Y[i], A_COLORS[i], i === 0)} />
      ))}
      <ChartBox area={{ l: 525, t: 37, w: 53, h: 83 }} xH={14} config={aConfig(A_INT_X, A_INT_Y, A_INT_COLOR, false)} />
      <Txt x={22} y={80} s={9.5} rot>-log10(enrichment p{'\u2212'}value)</Txt>
      <Txt x={36} y={80} s={9.5} rot>for stem cell regulators</Txt>
      <Txt x={297} y={149} s={10} a="m">Breadth quantile (%)</Txt>
      <Txt x={562} y={149} s={10} a="m">Intensity quantile (%)</Txt>

      {/* ---------- B ---------- */}
      <Txt x={5} y={164} s={15}>B</Txt>
      <Txt x={19} y={163} s={9.5}>Functional enrichment</Txt>
      <ChartBox area={{ l: B_LEFT, t: B_TOP, w: 226, h: B_H }} xH={12} config={bHeatConfig} />
      {B_TERMS.map((t, r) => (
        <Txt key={'bt' + r} x={352} y={B_TOP + (r + 0.5) * B_ROW} s={8.7}>{t}</Txt>
      ))}
      {B_GROUPS.map((g, k) => (
        <Txt key={'bg' + k} x={527} y={B_TOP + ((g.from + g.to + 1) / 2) * B_ROW} s={8.7} it={g.it}>{g.name}</Txt>
      ))}
      <Txt x={227} y={279} s={10} a="m">H3K4me3 breadth quantile (%)</Txt>
      <ChartBox area={{ l: 66, t: 180, w: 6, h: 78 }} yRW={14} config={bScaleConfig} />
      <Txt x={48} y={215} s={9.5} rot>Scaled -log10(p-value)</Txt>

      {/* ---------- C ---------- */}
      <Txt x={6} y={309} s={15}>C</Txt>
      <Txt x={23} y={308} s={9.5}>Clustering of human tissues</Txt>
      <ChartBox area={{ l: C_LEFT, t: C_TOP, w: C_W, h: C_H }} config={cHeatConfig} />
      <ChartBox area={{ l: 16, t: C_TOP, w: 10, h: C_H }} pad={2} config={cLeftDendroConfig} />
      <ChartBox area={{ l: C_LEFT, t: 318, w: C_W, h: 9 }} pad={2} config={cTopDendroConfig} />
      <ChartBox area={{ l: 172, t: C_TOP, w: 5, h: C_H }} config={cSideConfig} />
      <ChartBox area={{ l: C_LEFT, t: 507, w: C_W, h: 5 }} config={cBottomConfig} />
      {C_SAMPLES.map((s, i) => (
        <Txt key={'cs' + i} x={180.5} y={C_TOP + (i + 0.5) * cRow} s={8.6} c={C_GROUP_COLORS[C_GROUP[i]]}>{s}</Txt>
      ))}
      <ChartBox area={{ l: 258, t: 483, w: 4, h: 24 }} yRW={16} config={cScaleConfig} />

      {/* ---------- D ---------- */}
      <Txt x={278} y={309} s={15}>D</Txt>
      <Txt x={293} y={308} s={9.5}>Clustering quality</Txt>
      <div style={{ position: 'absolute', left: 345, top: 326, width: 6, height: 6, background: '#a6dcef' }} />
      <Txt x={353} y={329} s={8.8}>All H3K4me3 domains</Txt>
      <div style={{ position: 'absolute', left: 447, top: 326, width: 6, height: 6, background: '#1a8fd6' }} />
      <Txt x={456} y={329} s={8.8}>Top 5% broadest H3K4me3 domains</Txt>
      <ChartBox area={{ l: 328, t: 342, w: 124, h: 126 }} yW={28} xH={14} config={d1Config} />
      <ChartBox area={{ l: 463, t: 342, w: 123, h: 126 }} xH={14} config={d2Config} />
      <ChartBox area={{ l: 597, t: 342, w: 11, h: 126 }} xH={14} pad={6} config={d3Config} />
      <Txt x={298} y={405} s={9.5} rot>Cluster tighness (Silhouette index)</Txt>
      <Txt x={387} y={498} s={10} a="m">H3K4me3 breadth quantile (%)</Txt>
      <Txt x={524} y={498} s={10} a="m">H3K4me3 intensity quantile (%)</Txt>

      {/* ---------- E ---------- */}
      <Txt x={6} y={534} s={15}>E</Txt>
      <Txt x={23} y={533} s={9.5}>Q-Q plot</Txt>
      <ChartBox area={{ l: 45, t: 547, w: 175, h: 152 }} yW={22} xH={14} config={eConfig} />
      <Txt x={70} y={607} s={9.5}>p &lt; 2.22E-308</Txt>
      {E_TYPES.map((t, k) => {
        const col = k < 5 ? 0 : 1;
        const row = k % 5;
        const x = col === 0 ? 71.5 : 140;
        const y = 662.3 + row * 6.7;
        return (
          <React.Fragment key={'el' + k}>
            <div style={{ position: 'absolute', left: x - 1.7, top: y - 1.7, width: 3.4, height: 3.4, borderRadius: 2, background: E_TYPE_COLORS[k] }} />
            <Txt x={x + 3.5} y={y} s={8.6} c="#333">{t}</Txt>
          </React.Fragment>
        );
      })}
      <Txt x={22} y={623} s={10} rot>Observed  H3K4me3 breadth quantile</Txt>
      <Txt x={131} y={722} s={10} a="m">Theoretical H3K4me3 breadth quantile</Txt>
      <Txt x={131} y={734} s={10} a="m">(Uniform distribution)</Txt>

      {/* ---------- F ---------- */}
      <Txt x={278} y={534} s={15}>F</Txt>
      <Txt x={293} y={533} s={9.5}>Adipocyte differentiation</Txt>
      <div style={{ position: 'absolute', left: 324.5, top: 549.5, width: 3.4, height: 3.4, borderRadius: 2, background: '#f4633f' }} />
      <Txt x={330} y={551} s={8.8}>Gained top 5% broadest H3K4me3</Txt>
      <Txt x={330} y={561} s={8.8}>domains (175)</Txt>
      <div style={{ position: 'absolute', left: 324.5, top: 568.8, width: 3.4, height: 3.4, borderRadius: 2, background: '#6a3d9a' }} />
      <Txt x={330} y={570.5} s={8.8}>Lost top 5% broadest H3K4me3</Txt>
      <Txt x={330} y={580.5} s={8.8}>domains (99)</Txt>
      <ChartBox area={{ l: 327, t: 588, w: 127, h: 114 }} yW={22} xH={14} config={fConfig} />
      <Txt x={295} y={642} s={10} rot>H3K4me3 breadth in</Txt>
      <Txt x={309} y={642} s={10} rot>adipocytes (kb)</Txt>
      <Txt x={390} y={723} s={10} a="m">H3K4me3 breadth in</Txt>
      <Txt x={390} y={735} s={10} a="m">pre{'\u2212'}adipocytes (kb)</Txt>

      {/* genome tracks */}
      <div style={{ position: 'absolute', left: 465, top: 560, width: 142, height: 66, border: '1.5px solid #a0a0a0' }} />
      <div style={{ position: 'absolute', left: 465, top: 632, width: 142, height: 68, border: '1.5px solid #a0a0a0' }} />
      {TRACK_AREAS.map((ar, i) => (
        <ChartBox key={'tr' + i} area={ar} yW={20} pad={3} config={trackConfig(i)} />
      ))}
      <Txt x={508} y={569.5} s={9} a="m">chr19</Txt>
      <Txt x={603} y={569.5} s={9} a="r">55,180,000</Txt>
      <Txt x={605} y={569.5} s={9}>|</Txt>
      <Txt x={468} y={582.5} s={9}>Pre-adipocyte</Txt>
      <Txt x={468} y={605.5} s={9}>Adipocyte</Txt>
      <Txt x={574} y={625} s={8.5} it c="#4b4ba8">Gpam</Txt>
      <Txt x={514} y={639.5} s={9} a="m">chr15</Txt>
      <Txt x={580} y={639.5} s={9} a="r">76,027,500</Txt>
      <Txt x={581} y={639.5} s={9}>|</Txt>
      <Txt x={468} y={654.5} s={9}>Pre-adipocyte</Txt>
      <Txt x={468} y={673.5} s={9}>Adipocyte</Txt>
      <Txt x={593} y={696.5} s={8.5} it c="#4b4ba8">Plec</Txt>
      <Txt x={520} y={709.5} s={9} a="r">10 kb</Txt>

      {/* annotation lines */}
      <svg width={618} height={748} style={{ position: 'absolute', left: 0, top: 0, pointerEvents: 'none' }}>
        <Arrow x1={68} x2={494} y={137.5} />
        <Arrow x1={528} x2={580} y={137.5} />
        <line x1={62} y1={258} x2={62} y2={186} stroke="#222" strokeWidth={1.2} />
        <polygon points="62,179 59,189 65,189" fill="#222" />
        {B_GROUPS.map((g, k) => (
          <line key={'bl' + k} x1={522} x2={522} y1={B_TOP + g.from * B_ROW + 1} y2={B_TOP + (g.to + 1) * B_ROW - 1} stroke="#333" strokeWidth={1} />
        ))}
        <Arrow x1={328} x2={452} y={487.5} />
        <Arrow x1={463} x2={587} y={487.5} />
        <line x1={526.5} y1={709.5} x2={608} y2={709.5} stroke="#333" strokeWidth={1} />
        <line x1={526.5} y1={706} x2={526.5} y2={713} stroke="#333" strokeWidth={1} />
        <line x1={608} y1={706} x2={608} y2={713} stroke="#333" strokeWidth={1} />
      </svg>
    </div>
  );
}
